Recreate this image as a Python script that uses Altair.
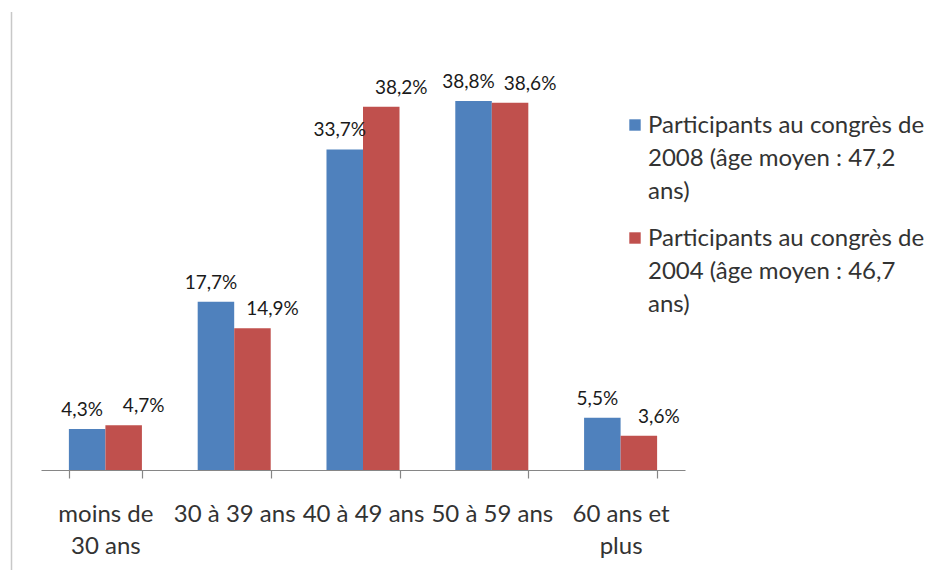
import altair as alt
import pandas as pd

categories = ["moins de|30 ans", "30 à 39 ans", "40 à 49 ans", "50 à 59 ans", "60 ans et|plus"]
series = [
    "Participants au congrès de 2008 (âge moyen : 47,2 ans)",
    "Participants au congrès de 2004 (âge moyen : 46,7 ans)",
]
legend_lines = [
    ["Participants au congrès de", "2008 (âge moyen : 47,2", "ans)"],
    ["Participants au congrès de", "2004 (âge moyen : 46,7", "ans)"],
]
values_2008 = [4.3, 17.7, 33.7, 38.8, 5.5]
values_2004 = [4.7, 14.9, 38.2, 38.6, 3.6]
colors = ["#4F81BD", "#C0504D"]

rows = []
for s, vals in zip(series, [values_2008, values_2004]):
    for c, v in zip(categories, vals):
        rows.append({"cat": c, "series": s, "value": v})
df = pd.DataFrame(rows)

FONT = "Lato"

x_enc = alt.X(
    "cat:N",
    sort=categories,
    title=None,
    scale=alt.Scale(paddingInner=0.433, paddingOuter=0.2165),
    axis=alt.Axis(
        labelExpr="split(datum.label, '|')",
        labelAngle=0,
        labelFont=FONT,
        labelFontSize=24,
        labelColor="#333333",
        labelLineHeight=32,
        labelBaseline="top",
        labelPadding=24,
        labelLimit=300,
        tickBand="extent",
        tickSize=8,
        tickColor="#868686",
        domainColor="#868686",
        domainWidth=1.2,
        tickWidth=1.2,
        grid=False,
    ),
)
xoff_enc = alt.XOffset("series:N", sort=series, scale=alt.Scale(paddingInner=0, paddingOuter=0))
y_enc = alt.Y("value:Q", scale=alt.Scale(domain=[0, 45], nice=False), axis=None)
color_scale = alt.Scale(domain=series, range=colors)

base = alt.Chart(df)

bars = base.mark_bar().encode(
    x=x_enc,
    xOffset=xoff_enc,
    y=y_enc,
    color=alt.Color("series:N", scale=color_scale, legend=None),
)

label_dx = [-5, 20]
label_layers = []
for i, s in enumerate(series):
    label_layers.append(
        base.transform_filter(alt.datum.series == s).transform_calculate(
            lab="replace(format(datum.value, '.1f'), '.', ',') + '%'"
        ).mark_text(
            baseline="bottom", dy=-9, dx=label_dx[i], font=FONT, fontSize=19, color="#1a1a1a"
        ).encode(
            x=alt.X("cat:N", sort=categories),
            xOffset=alt.XOffset("series:N", sort=series),
            y=alt.Y("value:Q"),
            text="lab:N",
        )
    )

legend_layers = []
leg_y = [84, 197]
for i, s in enumerate(series):
    ldf = pd.DataFrame({"series": [s], "txt": [legend_lines[i]]})
    sq = alt.Chart(ldf).mark_square(size=130, opacity=1).encode(
        x=alt.value(594), y=alt.value(leg_y[i] - 1),
        color=alt.Color("series:N", scale=color_scale, legend=None),
    )
    tx = alt.Chart(ldf).mark_text(
        align="left", baseline="middle", font=FONT, fontSize=24,
        lineHeight=33, color="#333333",
    ).encode(
        x=alt.value(607), y=alt.value(leg_y[i]), text="txt"
    )
    legend_layers += [sq, tx]

frame = alt.Chart(pd.DataFrame({"a": [0]})).mark_rule(color="#c8c8c8", strokeWidth=1.5).encode(
    x=alt.value(-29.5), y=alt.value(-30), y2=alt.value(560)
)

chart = alt.layer(frame, bars, *label_layers, *legend_layers).properties(
    width=644,
    height=428,
    autosize="none",
    background="white",
    padding={"left": 33, "top": 34, "right": 242, "bottom": 100},
).configure_view(strokeWidth=0, stroke="transparent")

chart.save("out.html", embed_options={"renderer": "svg", "actions": False})
